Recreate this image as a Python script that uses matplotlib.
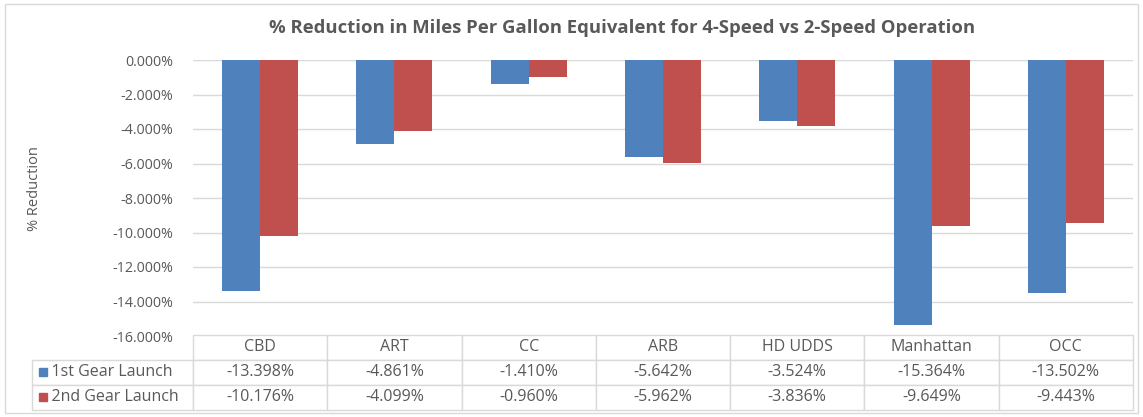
import matplotlib.pyplot as plt
import numpy as np
from matplotlib.patches import Rectangle
from matplotlib.table import Table

plt.rcParams['font.family'] = ['Open Sans', 'DejaVu Sans']

cycles = ['CBD', 'ART', 'CC', 'ARB', 'HD UDDS', 'Manhattan', 'OCC']
first_gear = [-13.398, -4.861, -1.410, -5.642, -3.524, -15.364, -13.502]
second_gear = [-10.176, -4.099, -0.960, -5.962, -3.836, -9.649, -9.443]
series_names = ['1st Gear Launch', '2nd Gear Launch']
colors = ['#4F81BD', '#C0504D']
yticks = np.arange(-16, 1, 2)

text_col = '#595959'
grid_col = '#D9D9D9'

fig = plt.figure(figsize=(11.43, 4.17), dpi=100)
ax = fig.add_axes([193 / 1143, 1 - 336 / 417, 940 / 1143, 276 / 417])

x = np.arange(len(cycles))
w = 0.283
ax.bar(x - w / 2, first_gear, w, color=colors[0], zorder=3)
ax.bar(x + w / 2, second_gear, w, color=colors[1], zorder=3)

ax.set_xlim(-0.5, len(cycles) - 0.5)
ax.set_ylim(-16, 0)
ax.set_yticks(yticks)
ax.set_yticklabels([f'{v:.3f}%' for v in yticks], color=text_col, fontsize=10.3)
ax.tick_params(axis='y', length=0, pad=14)
ax.set_xticks([])
ax.grid(axis='y', color=grid_col, linewidth=1, zorder=0)
for s in ax.spines.values():
    s.set_visible(False)
ax.set_ylabel('% Reduction', color=text_col, fontsize=10.5)
ax.yaxis.set_label_coords(-(193 - 42) / 940, 0.535)

fig.text(622 / 1143, 1 - 28 / 417,
         '% Reduction in Miles Per Gallon Equivalent for 4-Speed vs 2-Speed Operation',
         fontsize=13.3, fontweight='bold', color=text_col, ha='center', va='center')

# data table under the plot
label_w = 161 / 940
col_w = 1 / len(cycles)
row_h = 25 / 276
tbl = Table(ax, bbox=[-label_w, -3 * row_h + 0.005, 1 + label_w, 3 * row_h])
for j, name in enumerate(cycles):
    tbl.add_cell(0, j + 1, col_w, row_h, text=name, loc='center')
for i, (name, vals) in enumerate(zip(series_names, [first_gear, second_gear])):
    tbl.add_cell(i + 1, 0, label_w, row_h, text='    ' + name, loc='left')
    for j, v in enumerate(vals):
        tbl.add_cell(i + 1, j + 1, col_w, row_h, text=f'{v:.3f}%', loc='center')
for cell in tbl.get_celld().values():
    cell.set_edgecolor(grid_col)
    cell.set_linewidth(1)
    cell.get_text().set_color(text_col)
    cell.PAD = 0.02
tbl.auto_set_font_size(False)
tbl.set_fontsize(11.5)
ax.add_table(tbl)

# legend keys inside the row labels
for i, col in enumerate(colors):
    yc = -(i + 1.5) * row_h + 0.005
    ax.add_patch(Rectangle((-label_w + 0.007, yc - 0.014), 0.0085, 0.028,
                           transform=ax.transAxes, color=col, clip_on=False))

fig.patches.append(Rectangle((5 / 1143, 4 / 417), 1133 / 1143, 409 / 417,
                             transform=fig.transFigure, fill=False,
                             edgecolor=grid_col, linewidth=1))

fig.savefig('out.png', dpi=100)
